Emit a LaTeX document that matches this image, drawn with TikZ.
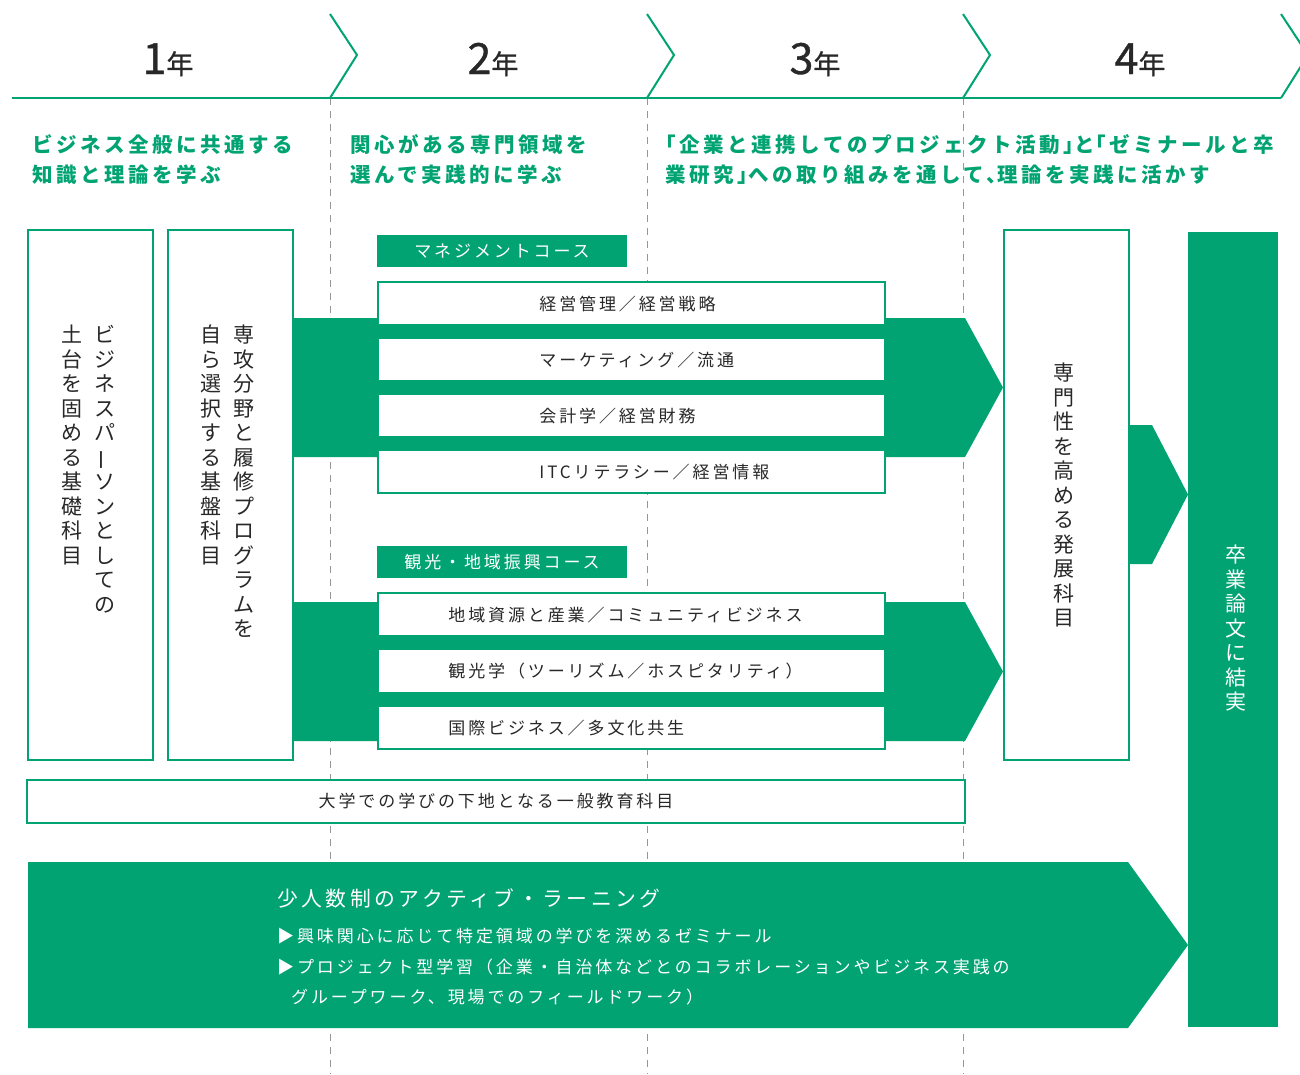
\documentclass[tikz,border=0pt]{standalone}
\usepackage{fontspec}
\usepackage{graphicx}
\setmainfont{Noto Sans CJK JP}[LetterSpace=17]
\definecolor{grn}{RGB}{0,163,113}
\definecolor{ink}{RGB}{40,40,40}
\definecolor{guidegray}{RGB}{150,150,150}
\newcommand{\vlong}{\rotatebox[origin=c]{90}{ー}}
\newcommand{\nen}{{\fontsize{27}{27}\selectfont 年}}
\newcommand{\lbk}{\kern-0.45em「}
\newcommand{\rbk}{」\kern-0.45em}
\newcommand{\tenk}{、\kern-0.45em}
\tikzset{
  guideline/.style={draw=guidegray, line width=0.8pt, dash pattern=on 7pt off 6pt},
  hdr/.style={draw=grn, line width=2pt},
  box/.style={draw=grn, line width=1.6pt, fill=white, inner sep=0pt},
  subtxt/.style={text=grn, font=\fontsize{20.5}{24}\selectfont\bfseries, inner sep=0pt, anchor=west, text height=18pt, text depth=2.5pt},
  itemtext/.style={text=ink, font=\fontsize{17}{20}\selectfont, inner sep=0pt, anchor=west, text height=15pt, text depth=2pt},
  vcol/.style={text=ink, font=\fontsize{21}{24.5}\selectfont\addfontfeature{LetterSpace=0}, inner sep=0pt, anchor=north, align=center},
  yearlab/.style={text=ink, font=\fontsize{43}{43}\selectfont\addfontfeature{FakeBold=0.8}, inner sep=0pt, anchor=base},
  course/.style={fill=grn, text=white, font=\fontsize{17}{20}\selectfont, inner sep=0pt, minimum width=250pt, minimum height=32pt},
  itembox/.style={box, minimum width=507pt, minimum height=43pt},
  tallbox/.style={box, minimum width=125pt, minimum height=530pt},
  alhead/.style={text=white, font=\fontsize{20.8}{24}\selectfont, inner sep=0pt, anchor=west, text height=18pt, text depth=2.5pt},
  albullet/.style={text=white, font=\fontsize{17}{20}\selectfont, inner sep=0pt, anchor=west, text height=15pt, text depth=2pt}
}
\begin{document}
\begin{tikzpicture}[x=1pt,y=-1pt]
\useasboundingbox (0,0) rectangle (1300,1074);
% dashed year guides
\foreach \x in {330,647,963} {\draw[guideline] (\x,98) -- (\x,1074);}
% header
\draw[hdr] (12,98) -- (1281,98);
\foreach \x in {330,647,963,1281} {\draw[hdr] (\x,14) -- ++(27,41) -- ++(-27,43);}
\node[yearlab] (y1) at (168,74) {1\nen};
\node[yearlab] (y2) at (493,74) {2\nen};
\node[yearlab] (y3) at (815,74) {3\nen};
\node[yearlab] (y4) at (1140,74) {4\nen};
% subtitles
\node[subtxt] (s1a) at (32,145) {ビジネス全般に共通する};
\node[subtxt] (s1b) at (32,175) {知識と理論を学ぶ};
\node[subtxt] (s2a) at (350,145) {関心がある専門領域を};
\node[subtxt] (s2b) at (350,175) {選んで実践的に学ぶ};
\node[subtxt] (s3a) at (665,145) {\lbk 企業と連携してのプロジェクト活動\rbk と\lbk ゼミナールと卒};
\node[subtxt] (s3b) at (665,175) {業研究\rbk への取り組みを通して\tenk 理論を実践に活かす};
% green arrows
\fill[grn] (293,318) -- (965,318) -- (1003,387.5) -- (965,457) -- (293,457) -- cycle;
\fill[grn] (293,602) -- (965,602) -- (1003,671.5) -- (965,741) -- (293,741) -- cycle;
\fill[grn] (1129,425) -- (1152,425) -- (1188,494.5) -- (1152,564) -- (1129,564) -- cycle;
\fill[grn] (28,862) -- (1128,862) -- (1188,945) -- (1128,1028) -- (28,1028) -- cycle;
% tall boxes
\node[tallbox] (kiso) at (90.5,495) {};
\node[tallbox] (kiban) at (230.5,495) {};
\node[tallbox] (hatten) at (1066.5,495) {};
\node[fill=grn, inner sep=0pt, minimum width=90pt, minimum height=795pt] (sotsu) at (1233,629.5) {};
\node[vcol] (kiso-r) at (105,325) {ビ\\ジ\\ネ\\ス\\パ\\\vlong\\ソ\\ン\\と\\し\\て\\の};
\node[vcol] (kiso-l) at (72,325) {土\\台\\を\\固\\め\\る\\基\\礎\\科\\目};
\node[vcol] (kiban-r) at (244,325) {専\\攻\\分\\野\\と\\履\\修\\プ\\ロ\\グ\\ラ\\ム\\を};
\node[vcol] (kiban-l) at (211,325) {自\\ら\\選\\択\\す\\る\\基\\盤\\科\\目};
\node[vcol] (hatten-t) at (1064,363) {専\\門\\性\\を\\高\\め\\る\\発\\展\\科\\目};
\node[vcol, text=white] (sotsu-t) at (1236,545) {卒\\業\\論\\文\\に\\結\\実};
% management course
\node[course] (mgmt) at (502,251) {マネジメントコース};
\node[itembox] (m1) at (631.5,303.5) {};
\node[itembox] (m2) at (631.5,359.5) {};
\node[itembox] (m3) at (631.5,415.5) {};
\node[itembox] (m4) at (631.5,471.5) {};
\node[itemtext] (m1t) at ([xshift=162pt]m1.west) {経営管理／経営戦略};
\node[itemtext] (m2t) at ([xshift=162pt]m2.west) {マーケティング／流通};
\node[itemtext] (m3t) at ([xshift=162pt]m3.west) {会計学／経営財務};
\node[itemtext] (m4t) at ([xshift=162pt]m4.west) {ITCリテラシー／経営情報};
% tourism course
\node[course] (kanko) at (502,562) {観光・地域振興コース};
\node[itembox] (t1) at (631.5,614.5) {};
\node[itembox] (t2) at (631.5,671) {};
\node[itembox] (t3) at (631.5,727.5) {};
\node[itemtext] (t1t) at ([xshift=71pt]t1.west) {地域資源と産業／コミュニティビジネス};
\node[itemtext] (t2t) at ([xshift=71pt]t2.west) {観光学（ツーリズム／ホスピタリティ）};
\node[itemtext] (t3t) at ([xshift=71pt]t3.west) {国際ビジネス／多文化共生};
% general education
\node[box, minimum width=938pt, minimum height=43pt, text=ink, font=\fontsize{17}{20}\selectfont] (ippan) at (496,801.5) {大学での学びの下地となる一般教育科目};
% active learning texts
\node[alhead] (al0) at (277,899) {少人数制のアクティブ・ラーニング};
\node[albullet] (al1) at (277,936) {▶興味関心に応じて特定領域の学びを深めるゼミナール};
\node[albullet] (al2) at (277,967) {▶プロジェクト型学習（企業・自治体などとのコラボレーションやビジネス実践の};
\node[albullet] (al3) at (291,997) {グループワーク、現場でのフィールドワーク）};
\end{tikzpicture}
\end{document}
